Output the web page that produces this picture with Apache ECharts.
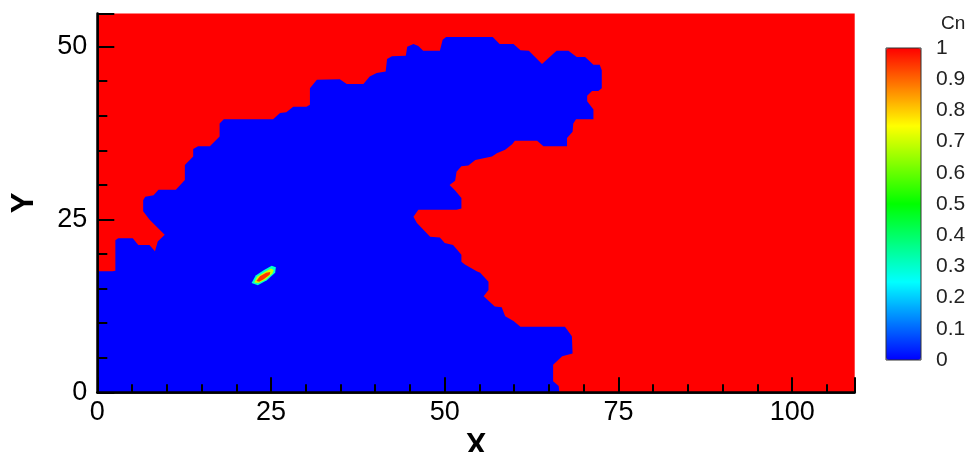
<!DOCTYPE html>
<html><head><meta charset="utf-8">
<script src="https://cdn.jsdelivr.net/npm/echarts@6/dist/echarts.min.js"></script>
<style>html,body{margin:0;padding:0;background:#fff}#c{width:971px;height:452px}</style>
</head><body><div id="c"></div>
<script>
// ---- data ----
const xTickLabels = ['0', '25', '50', '75', '100'];
const yTickLabels = ['0', '25', '50'];
const cnTickLabels = ['0', '0.1', '0.2', '0.3', '0.4', '0.5', '0.6', '0.7', '0.8', '0.9', '1'];
const domainX = [0, 109];
const domainY = [0, 54.8];
const domainBox = [[0, 0], [109, 0], [109, 54.8], [0, 54.8]];
const blueRegion = [
  [0,0],[66.5,0],[66.4,0.9],[65.6,1.6],[65.6,4.0],[66.9,5.2],[68.4,5.6],[68.3,8.1],[67.3,9.5],[60.9,9.5],
  [59.9,10.3],[58.7,11.0],[58.2,12.3],[57.2,12.4],[55.6,13.9],[56.3,14.8],[56.3,16.0],[55.1,17.3],[54.6,17.5],
  [52.9,18.5],[52.4,18.9],[52.4,19.9],[51.2,21.3],[50.0,21.6],[49.3,22.4],[47.9,22.5],[46.0,24.5],[45.5,25.4],
  [46.2,26.4],[51.7,26.4],[52.4,26.6],[52.4,28.1],[51.5,29.2],[50.7,30.0],[51.5,30.6],[51.7,31.9],[52.4,32.7],
  [53.4,32.8],[54.4,33.6],[56.8,34.1],[57.5,34.6],[58.7,35.1],[59.7,35.9],[60.1,36.4],[63.3,36.4],[64.2,35.6],
  [67.6,35.6],[67.6,36.8],[68.4,37.7],[68.5,38.9],[68.9,39.5],[71.4,39.5],[71.4,40.9],[70.5,42.1],[70.5,42.9],
  [71.2,43.6],[72.1,43.6],[72.6,44.0],[72.6,46.6],[72.3,47.4],[71.4,47.4],[70.2,48.5],[69.0,48.5],[67.8,49.4],
  [66.1,49.4],[64.0,47.5],[62.1,49.4],[60.9,49.5],[59.9,50.4],[57.9,50.4],[56.9,51.4],[50.2,51.4],[49.7,51.0],
  [49.3,49.4],[46.9,49.4],[46.2,50.1],[45.5,50.4],[44.6,50.0],[44.4,48.7],[42.4,48.6],[41.7,48.2],[41.5,46.4],
  [40.2,46.2],[39.2,45.7],[38.3,44.6],[35.9,44.6],[34.9,45.3],[31.6,45.2],[30.6,44.0],[30.6,41.6],[30.1,41.3],
  [28.2,41.3],[27.2,40.5],[26.3,40.4],[25.3,39.5],[18.2,39.5],[17.6,38.9],[17.6,37.0],[16.2,35.6],[14.5,35.6],
  [13.8,35.2],[13.8,34.1],[12.6,32.9],[12.6,30.7],[11.3,29.3],[8.8,29.3],[8.1,28.5],[6.9,28.3],[6.6,27.8],
  [6.6,26.2],[7.5,25.0],[9.7,22.8],[8.7,21.8],[8.3,20.4],[7.5,21.3],[5.9,21.3],[5.1,22.3],[3.0,22.3],
  [2.6,22.0],[2.6,17.6],[2.2,17.5],[0,17.5]
];
const spotOuter = [[22.2,15.8],[22.8,16.9],[24.0,17.7],[25.1,18.3],[25.7,18.1],[25.6,17.3],[24.4,16.2],[23.1,15.5]];
const spotMiddle = [[22.6,15.9],[23.0,16.7],[24.1,17.4],[25.0,17.9],[25.4,17.7],[25.2,17.2],[24.2,16.3],[23.2,15.8]];
const spotCore = [[22.9,16.1],[23.4,16.8],[24.3,17.3],[24.9,17.4],[24.8,17.0],[24.0,16.4],[23.3,16.0]];
const regionPolygons = [domainBox, blueRegion, spotOuter, spotMiddle, spotCore];
const regionCn = [1, 0, 0.3, 0.7, 0.95];
const cnColors = ['#0000ff', '#00ffff', '#00ff00', '#ffff00', '#ff0000'];
const colorbarTitle = 'Cn';

// ---- chart ----
const FONT = "'Liberation Sans', Arial, sans-serif";
const chart = echarts.init(document.getElementById('c'), null, { renderer: 'canvas' });
const fmt = (list) => (v) => { const s = String(+v.toFixed(6)); return list.indexOf(s) >= 0 ? s : ''; };
const noSplit = { show: false };

chart.setOption({
  animation: false,
  backgroundColor: '#ffffff',
  title: { text: colorbarTitle, left: 941, top: 14, padding: 0,
    textStyle: { fontSize: 19, fontWeight: 'normal', color: '#222', fontFamily: FONT } },
  grid: [
    { left: 97.3, top: 13.5, width: 757.4, height: 378.8, outerBoundsMode: 'none', containLabel: false },
    { left: 886, top: 48, width: 35, height: 312, show: true, borderColor: '#333', borderWidth: 1,
      backgroundColor: 'transparent', z: 10, outerBoundsMode: 'none', containLabel: false }
  ],
  xAxis: [
    { type: 'value', gridIndex: 0, position: 'bottom', min: domainX[0], max: domainX[1], interval: 25, z: 5,
      axisLine: { lineStyle: { color: '#000', width: 2.5 } },
      axisTick: { inside: true, length: 15, lineStyle: { color: '#000', width: 2 } },
      axisLabel: { fontSize: 27, color: '#000', margin: 7, fontFamily: FONT, formatter: fmt(xTickLabels) },
      splitLine: noSplit,
      name: 'X', nameLocation: 'middle', nameGap: 47,
      nameTextStyle: { fontSize: 31, fontWeight: 'bold', color: '#000', fontFamily: FONT, verticalAlign: 'middle' } },
    { type: 'value', gridIndex: 0, position: 'bottom', min: domainX[0], max: domainX[1], interval: 5, z: 5,
      axisLine: { show: false },
      axisTick: { inside: true, length: 8, lineStyle: { color: '#000', width: 2 } },
      axisLabel: { show: false }, splitLine: noSplit },
    { type: 'value', gridIndex: 0, position: 'top', min: domainX[0], max: domainX[1], z: 5,
      axisLine: { lineStyle: { color: '#000', width: 1.5 } },
      axisTick: { show: false }, axisLabel: { show: false }, splitLine: noSplit },
    { type: 'value', gridIndex: 1, min: 0, max: 1, show: false, splitLine: noSplit }
  ],
  yAxis: [
    { type: 'value', gridIndex: 0, position: 'left', min: domainY[0], max: domainY[1], interval: 25, z: 5,
      axisLine: { lineStyle: { color: '#000', width: 2.5 } },
      axisTick: { inside: true, length: 17, lineStyle: { color: '#000', width: 2 } },
      axisLabel: { fontSize: 27, color: '#000', margin: 10, fontFamily: FONT, formatter: fmt(yTickLabels) },
      splitLine: noSplit,
      name: 'Y', nameLocation: 'middle', nameGap: 73, nameRotate: 90,
      nameTextStyle: { fontSize: 31, fontWeight: 'bold', color: '#000', fontFamily: FONT, verticalAlign: 'middle', align: 'center' } },
    { type: 'value', gridIndex: 0, position: 'left', min: domainY[0], max: domainY[1], interval: 5, z: 5,
      axisLine: { show: false },
      axisTick: { inside: true, length: 10, lineStyle: { color: '#000', width: 2 } },
      axisLabel: { show: false }, splitLine: noSplit },
    { type: 'value', gridIndex: 0, position: 'right', min: domainY[0], max: domainY[1], z: 5,
      axisLine: { lineStyle: { color: '#000', width: 1.5 } },
      axisTick: { show: false }, axisLabel: { show: false }, splitLine: noSplit },
    { type: 'value', gridIndex: 1, position: 'right', min: 0, max: 1, interval: 0.1,
      axisLine: { show: false }, axisTick: { show: false }, splitLine: noSplit,
      axisLabel: { fontSize: 21, color: '#222', margin: 15, fontFamily: FONT, formatter: fmt(cnTickLabels) } }
  ],
  visualMap: {
    type: 'continuous', min: 0, max: 1, dimension: 1, seriesIndex: 0,
    left: 886, top: 48, itemWidth: 35, itemHeight: 312, padding: 0,
    calculable: false, hoverLink: false, text: null, showLabel: false,
    inRange: { color: cnColors }
  },
  series: [{
    type: 'custom', xAxisIndex: 0, yAxisIndex: 0, coordinateSystem: 'cartesian2d',
    data: regionPolygons.map((p, i) => [i, regionCn[i]]),
    encode: { x: 0, y: 1 },
    silent: true,
    renderItem: function (params, api) {
      const poly = regionPolygons[api.value(0)];
      const pts = poly.map(function (p) { return api.coord(p); });
      return { type: 'polygon', shape: { points: pts }, style: { fill: api.visual('color'), stroke: null } };
    }
  }]
});
</script>
</body></html>
